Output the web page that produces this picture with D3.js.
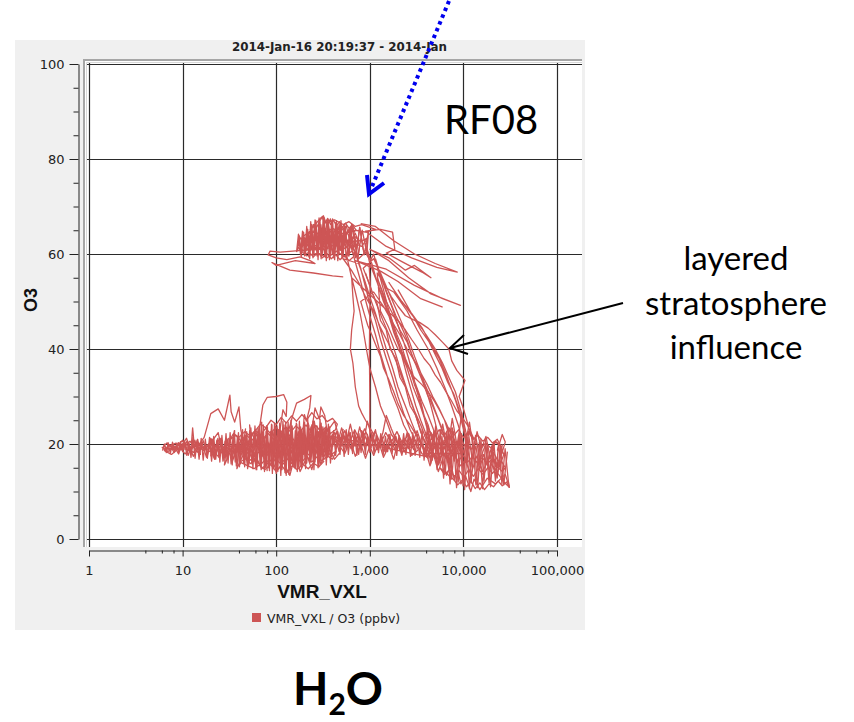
<!DOCTYPE html>
<html>
<head>
<meta charset="utf-8">
<script src="https://cdn.jsdelivr.net/npm/d3@7"></script>
<style>
  body { margin: 0; background: #fff; }
  svg { display: block; }
</style>
</head>
<body>
<svg id="chart" width="854" height="722"></svg>
<script>
// ---- axis settings and labels ----
const xTickValues = [1, 10, 100, 1000, 10000, 100000];
const xMinorMultipliers = [4, 6, 8];
const yTickValues = [0, 20, 40, 60, 80, 100];
const yMinorStep = 5;
const titleText = "2014-Jan-16 20:19:37 - 2014-Jan";
const xTitle = "VMR_VXL";
const yTitle = "O3";
const legendLabel = "VMR_VXL / O3 (ppbv)";
const flightLabel = "RF08";
const noteLines = ["layered", "stratosphere", "influence"];

// ---- flight track, [water vapour VMR, O3 ppbv], in time order per leg ----
const boundaryLayerWest = [
  [6.2,19.2],[7.0,18.4],[8.0,19.8],[9.0,18.0],[10.5,20.4],[11.5,17.6],[12.4,19.8],[12.8,23.4],[13.4,19.0],[14.5,21.0],
  [15.5,17.8],[14.0,18.6],[12.0,20.6],[10.0,19.0],[8.5,20.2],[7.2,19.6],[6.4,18.6],[7.6,17.8],[9.5,19.4],[11.0,21.2],
  [13.0,17.4],[16.0,20.4],[18.0,17.2],[20.0,21.2],[22.0,16.8],[19.0,19.6],[24.0,22.4],[27.0,17.6],[30.0,20.8],[28.0,15.6],
  [33.0,18.8],[36.0,22.8],[34.0,16.4],[40.0,19.8],[38.0,14.8],[44.0,17.6],[47.0,23.2],[45.0,20.4],[50.0,15.2],[54.0,19.4],
  [52.0,24.0],[58.0,17.2],[62.0,14.6],[60.0,21.6],[66.0,18.2],[70.0,24.6],[68.0,16.0],[75.0,20.8],[80.0,14.4],[78.0,22.6],
  [85.0,17.4],[90.0,24.0],[88.0,15.6],[95.0,21.2],[100,13.8],[105,19.8],[102,23.8],[110,16.4],[116,22.2],[114,14.6],
  [122,19.4],[128,13.4],[126,24.6],[134,17.0],[140,21.8],[138,15.0],[146,23.6],[152,16.6],[150,20.4],[160,14.8],
  [166,24.2],[164,18.4],[175,21.6],[180,15.4],[186,23.0],[195,17.8],[200,22.4],[210,16.0],[220,24.4],[225,18.6],
  [240,21.0],[250,16.6],[262,23.2],[275,18.0],[290,21.8],[300,16.4],[315,23.6],[330,19.0],[345,21.6],[360,17.6],
  [380,20.4],[400,22.2]
];

const boundaryLayerReturn = [
  [370,18.6],[340,23.4],[320,16.8],[305,20.2],[285,15.2],[270,21.6],[255,24.8],[245,19.2],[232,16.2],[218,22.0],
  [205,18.4],[192,20.8],[182,16.8],[172,22.6],[158,19.6],[148,15.8],[136,21.4],[124,18.2],[112,22.8],[98,17.0],
  [86,20.2],[76,16.4],[64,21.0],[56,18.0],[48,20.8],[42,17.6],[36,19.8],[30,18.0],[26,20.0],[23,18.4],
  [20,20.2],[17,18.6],[14,19.6],[11.5,18.8],[9,19.2],[7.0,19.0],[8,18.8],[10,20.8],[13,18.2],[17,21.4],
  [20,26.4],[24,27.4],[28,25.0],[32,30.3],[33,26.8],[36,24.6],[40,27.8],[42,22.8],[48,18.4],[55,22.4],
  [62,19.4],[72,28.2],[80,29.8],[100,30.0],[120,30.4],[130,28.8],[128,25.8],[118,27.2],[108,22.0],[115,18.2],
  [130,21.4],[150,26.0],[165,28.6],[200,29.4],[235,30.2],[228,27.6],[210,24.8],[200,26.2],[190,21.0],[205,17.0],
  [230,20.6],[260,27.6],[290,25.2],[300,27.8],[330,26.0],[350,22.6],[420,24.8],[480,20.6],[520,23.2]
];

const boundaryLayerLow = [
  [480,18.2],[420,16.8],[360,19.4],[300,15.8],[270,18.6],[240,14.6],[215,17.4],[180,14.2],[160,17.8],[140,13.4],
  [120,16.0],[100,14.4],[90,16.8],[70,14.8],[60,17.6],[50,16.2],[44,18.6],[50,20.4],[60,23.0],[68,19.2],
  [78,21.8],[84,18.0],[92,22.6],[100,19.0],[108,21.6],[118,17.6],[128,22.2],[136,19.6],[146,22.8],[156,18.4],
  [168,21.4],[180,19.0],[192,22.2],[206,19.6],[220,21.2],[236,18.2],[250,21.8],[266,19.4],[282,22.6],[298,18.8],
  [318,21.0],[336,18.2],[354,20.8],[340,22.0],[320,19.6],[300,23.0],[280,19.8],[265,22.4],[250,18.8],[235,23.6],
  [220,19.0],[205,21.8],[190,18.4],[178,20.6],[165,16.6],[150,19.2],[138,17.2],[125,20.6],[112,18.0],[100,21.4],
  [90,18.6],[80,20.6],[72,17.4],[64,19.6],[56,16.8],[49,19.0],[42,20.6],[35,18.4],[29,19.4],[24,17.4],[20,19.0]
];

const boundaryLayerCore = [
  [60,22.8],[68,24.2],[77,23.4],[88,25.0],[100,24.1],[113,25.6],[128,24.4],[146,25.9],[165,24.8],[188,26.2],
  [212,25.1],[240,26.6],[272,25.3],[310,26.0],[350,24.7],[400,25.4],[450,24.2],
  [430,23.0],[380,22.2],[340,23.6],[300,22.6],[265,23.9],[235,22.7],[208,24.0],[184,22.9],[162,23.8],[143,22.5],
  [127,23.6],[112,22.4],[99,23.5],[87,22.2],[77,23.3],[68,21.9],[60,22.9],[53,21.7],[46,22.6],[40,21.4],[35,22.2],
  [32,20.9],[37,21.8],[42,20.7],[48,21.9],[55,20.8],[63,22.0],[72,21.1],[82,22.2],[94,21.0],[107,22.1],
  [122,20.9],[139,21.9],[158,20.6],[180,21.8],[205,20.8],[233,22.0],[265,21.0],[302,22.1],[345,20.9],[392,21.7],
  [445,20.6],[500,21.5],
  [480,19.8],[425,20.6],[376,19.5],[334,20.4],[296,19.3],[262,20.5],[232,19.4],[206,20.6],[183,19.2],[162,20.3],
  [144,19.1],[128,20.4],[114,19.3],[101,20.5],[90,19.0],[80,20.2],[71,19.1],[63,20.4],[56,19.2],[50,20.3],
  [44,19.0],[39,20.1],[34,19.2],[30,20.0],
  [28,18.2],[32,19.0],[36,17.9],[41,18.8],[47,17.6],[53,18.9],[61,17.8],[69,18.7],[79,17.5],[90,18.8],
  [103,17.7],[117,18.9],[134,17.6],[152,18.6],[174,17.4],[198,18.7],[226,17.6],[258,18.8],[294,17.5],[335,18.6],
  [382,17.7],[436,18.5],
  [400,16.8],[352,17.5],[310,16.4],[273,17.3],[240,16.2],[212,17.4],[186,16.1],[164,17.2],[145,15.9],[128,17.1],
  [112,15.8],[99,16.9],[87,15.7],[77,16.8],[68,15.6],[60,16.6],[53,15.9],[47,16.9],[41,16.2],
  [50,15.4],[58,14.8],[66,15.6],[76,14.6],[87,15.7],[100,14.2],[114,15.5],[130,14.0],[148,15.4],[168,14.6],
  [192,15.8],[220,14.8],[250,16.0],[285,15.2],[325,16.4]
];

const boundaryLayerTail = [
  [6.0,19.4],[6.6,18.5],[7.3,19.9],[8.1,18.2],[9.0,20.3],[10.0,18.6],[11.1,20.6],[12.2,18.1],[13.5,20.8],[15.0,17.9],
  [16.6,20.7],[18.4,17.6],[20.4,21.0],[22.6,17.8],[25.0,20.6],[27.8,17.4],[30.8,21.2],
  [28,19.4],[25,18.6],[22,19.8],[19.5,18.4],[17.2,19.6],[15.2,18.8],[13.4,19.9],[11.8,18.9],[10.4,19.7],
  [9.2,18.8],[8.1,19.4],[7.1,18.9],[6.3,19.6],[6.8,20.2],[7.8,19.1],[9.0,19.7],[10.6,17.9],[12.4,19.3],
  [14.6,20.4],[16.8,19.0],[19.5,20.2],[22.0,19.2],[25.0,21.2],[28,17.0]
];

// long low-level traverse, sampled densely as it sweeps up and down
const lowLevelSweep = [
  [6.1,18.6],[6.4,20.0],[6.7,18.2],[7.0,20.3],[7.4,18.0],[7.8,20.4],[8.2,18.3],[8.6,20.1],[9.1,17.9],[9.5,20.5],
  [10.0,18.4],[10.5,20.6],[11.1,17.6],[11.7,20.2],[12.3,17.2],[12.9,21.4],[13.6,17.0],[14.3,20.8],[15.0,16.8],[15.8,21.2],
  [16.6,16.6],[17.5,21.0],[18.4,17.0],[19.4,21.4],[20.4,16.4],[21.5,21.6],[22.6,16.8],[23.8,21.2],[25.0,16.2],[26.3,21.8],
  [27.7,16.6],[29.1,22.2],[30.6,16.0],[32.2,22.4],[33.9,15.6],[35.7,22.8],[37.5,15.4],[39.5,22.4],[41.5,15.8],[43.7,23.0],
  [46.0,15.2],[48.4,22.6],[50.9,15.6],[53.6,23.4],[56.4,14.8],[59.3,23.8],[62.4,15.2],[65.7,23.2],[69.1,14.6],[72.7,24.0],
  [76.5,15.0],[80.5,23.6],[84.7,14.4],[89.1,24.2],[93.8,14.8],[98.7,23.8],[104,14.2],[109,24.4],[115,14.6],[121,24.0],
  [127,13.8],[134,24.6],[141,14.4],[148,23.8],[156,15.2],[164,24.4],[173,15.6],[182,23.6],[191,15.8],[201,24.6],
  [212,16.0],[223,24.0],[234,16.4],[247,24.8],[260,16.2],[273,23.8],[287,16.6],[302,24.4],[318,16.8],[335,23.2],
  [352,17.2],[371,23.6],[390,17.4],[410,22.8],[432,17.6],[455,22.6],[480,17.8],[505,22.2],[532,17.4],[560,23.0],
  [590,17.8],[622,22.4],[655,18.0],[690,22.8],[727,17.6],[766,22.2],[807,18.2],[850,22.6],[895,17.8],[943,22.0],
  [993,18.4],[1050,22.4],[1110,18.0],[1170,21.8],[1240,18.2],[1310,22.2],[1390,17.8],[1470,21.6],[1550,18.4],[1640,22.0],
  [1730,18.0],[1830,21.4],[1940,17.6],[2050,21.8],[2170,18.2],[2300,22.2],[2430,17.8],[2570,21.6],[2720,17.4],[2880,22.4],
  [3050,17.6],[3230,22.0],[3420,17.2],[3620,23.0],
  [3800,16.6],[4120,23.4],[4460,15.8],[4830,22.8],[5230,14.6],[5670,23.0],[6140,12.8],[6650,22.4],[7200,11.6],[7800,22.6],
  [8450,10.8],[9150,21.8],[9900,11.2],[10700,22.0],[11600,10.6],[12600,21.2],[13600,11.4],[14800,20.4],[16000,10.6],[17300,20.8],
  [18800,11.8],[20300,19.8],[22000,12.2],[23800,20.2],[25800,11.6],[27900,19.0],[30200,12.2],[31000,11.0]
];

// the return traverse at low level, heading back west
const lowLevelReturn = [
  [29500,18.4],[27000,11.4],[24800,19.6],[22900,12.8],[21100,20.4],[19500,11.0],[18000,19.8],[16600,12.2],[15400,21.0],[14200,10.8],
  [13100,20.0],[12100,11.8],[11200,21.4],[10300,10.4],[9500,22.2],[8800,12.0],[8100,21.0],[7500,12.6],[6900,23.0],[6400,13.8],
  [5900,21.6],[5450,15.6],[5050,23.8],[4650,16.6],[4300,22.0],[3950,17.4],
  [400,21.6],[380,16.0],[361,24.2],[343,15.6],[326,23.0],[310,17.4],[294,25.2],[280,15.0],[266,22.6],[253,14.6],
  [240,24.0],[228,16.2],[217,25.4],[206,14.8],[196,23.2],[186,15.0],[177,24.8],[168,14.2],[160,22.8],[152,15.4],
  [144,25.0],[137,13.6],[130,23.4],[124,14.0],[118,24.8],[112,13.4],[106,23.0],[101,14.6],[96,24.4],[91,13.8],
  [87,22.6],[83,15.0],[79,23.8],[75,14.2],[71,22.4],[67.5,15.4],[64,23.4],[61,14.6],[58,22.0],[55,15.8],
  [52,22.8],[49.5,14.8],[47,21.6],[45,16.0],[42.5,22.2],[40.5,15.2],[38.5,21.4],[36.5,16.2],[34.8,22.0],[33,15.8],
  [31.4,21.0],[29.8,16.8],[28.4,20.6],[27,16.4],[25.6,21.2],[24.4,17.2],[23.2,20.8],[22,16.8],[21,21.0],[20,17.4]
];

// repeated passes at the top of the profiles
const upperSweep = [
  [165,60.4],[173,64.2],[182,59.8],[191,64.8],[201,59.6],[212,65.8],[223,59.4],[234,66.8],[247,59.2],[260,67.2],
  [273,59.6],[287,67.6],[302,59.0],[318,68.0],[335,59.4],[352,67.2],[371,58.8],[390,66.8],[410,59.2],[432,66.6],
  [455,58.6],[480,66.4],[505,59.0],[532,66.2],[560,58.8],[620,65.4],[700,59.2],[780,65.6],[870,59.8],[970,64.8],
  [930,60.2],[830,65.0],[740,59.0],[660,66.0],[590,59.6],[545,65.4],[518,59.4],[492,67.0],[467,59.8],[443,65.8],
  [421,58.8],[400,67.4],[380,59.6],[361,66.2],[343,58.6],[326,67.6],[310,59.8],[294,66.8],[280,58.8],[266,67.0],
  [253,60.0],[240,66.2],[228,59.0],[217,65.2],[206,60.2],[196,64.6],[186,59.4],[177,63.8],[169,60.6]
];

const boundaryLayerEast = [
  [360,20.2],[420,22.4],[470,18.4],[520,21.8],[560,19.0],[600,22.6],[650,18.6],[700,21.0],[760,17.8],[820,22.8],
  [880,19.2],[950,21.4],[1000,18.2],[1080,20.6],[1150,23.0],[1250,19.2],[1350,21.6],[1450,18.4],[1600,22.0],[1750,19.4],
  [1900,21.6],[2100,18.6],[2300,20.8],[2600,19.0],[2900,21.4],[3300,18.8],[2800,17.6],[2400,21.2],[2000,19.8],[1700,23.2],
  [1500,26.0],[1380,22.4],[1200,18.8],[1050,21.6],[940,24.8],[860,20.2],[780,23.6],[700,19.6],[620,24.2],[560,20.4],
  [500,23.4],[440,19.2],[400,21.0],[460,20.0],[540,18.0],[620,20.8],[700,17.4],[800,20.0],[900,17.0],[1000,19.6],
  [1100,17.6],[1250,20.4],[1400,17.2],[1600,19.6],[1800,16.8],[2000,20.6],[2200,17.6],[2500,22.4],[2800,19.6],[3200,22.8],
  [3600,19.8],
  [500,19.6],[560,21.4],[630,19.0],[700,21.8],[780,19.4],[870,22.2],[970,19.8],[1080,21.6],[1200,19.2],[1340,21.2],
  [1500,18.8],[1680,21.0],[1880,18.6],[2100,20.6],[2350,18.4],[2650,20.4],[2950,18.8],[2600,22.2],[2250,20.0],[1950,22.6],
  [1700,20.4],[1480,22.4],[1300,20.0],[1140,22.8],[1000,20.6],[880,23.2],[780,20.8],[690,23.0],[610,20.4],[540,22.8],
  [480,20.2],[440,22.6],[400,19.4]
];

const upperCluster = [
  [230,65.0],[300,67.6],[320,68.0],[340,66.6],[420,67.2],[520,66.2],[600,66.8],[700,65.8],[820,66.2],[1000,65.6],
  [1150,65.2],[900,64.6],[700,65.0],[520,64.2],[400,65.4],[300,64.0],[230,64.8],[190,63.6],[240,62.6],[300,63.4],
  [380,62.2],[460,63.6],[560,62.4],[680,63.8],[800,62.6],[950,63.4],[820,61.6],[650,62.4],[520,61.0],[420,62.0],
  [330,60.8],[260,61.8],[200,60.6],[170,61.4],[210,59.6],[280,60.2],[350,59.2],[440,60.6],[540,59.4],[640,60.6],
  [760,59.0],[900,60.4],[1000,58.8],[850,61.0],[780,65.6],[720,60.2],[640,66.4],[600,59.6],[540,65.8],[480,60.8],
  [440,67.0],[400,60.0],[360,66.4],[330,59.8],[300,66.2],[280,60.4],[260,65.2],[240,61.0],[220,64.4],[200,62.0],
  [180,63.4],[210,63.0],[250,66.2],[270,62.2],[300,65.6],[320,61.6],[350,67.0],[370,62.6],[400,64.6],[430,61.4],
  [470,66.2],[500,62.8],[540,64.6],[580,61.2],[620,64.0],[660,60.8],[700,63.2],[740,58.6],[780,61.8],[700,64.4],
  [620,62.2],[560,66.0],[500,63.2],[460,64.8],[400,62.6],[360,64.0],[330,62.2],[290,63.6],[260,61.0],[240,63.6],
  [210,61.6],[330,65.0],[380,67.4],[420,63.0],[480,65.0],[520,62.6],[600,65.2],[640,63.0],[300,62.4],[350,61.0]
];

const upperClusterRows = [
  [270,65.6],[290,66.8],[310,67.8],[330,66.4],[355,67.5],[380,66.2],[410,67.1],[440,65.9],[475,66.8],[510,65.6],
  [550,66.5],[600,65.4],[650,66.2],[710,65.1],
  [680,64.6],[620,65.6],[570,64.4],[520,65.5],[475,64.2],[435,65.4],[400,64.0],[365,65.3],[335,64.1],[305,65.2],
  [280,64.2],[255,65.0],[235,64.0],
  [215,63.2],[235,62.4],[258,63.6],[282,62.5],[308,63.8],[337,62.6],[368,63.9],[402,62.7],[440,63.8],[480,62.5],
  [525,63.6],[575,62.4],[630,63.4],[690,62.3],[760,63.2],
  [720,61.2],[650,62.0],[590,60.9],[535,62.1],[485,60.8],[440,61.9],[400,60.7],[365,61.8],[332,60.6],[302,61.7],
  [275,60.5],[250,61.6],[228,60.6],[208,61.4],
  [200,59.8],[225,60.4],[250,59.4],[280,60.3],[312,59.2],[348,60.1],[388,59.0],[432,59.9],[480,58.8],[535,59.7],
  [600,58.6],[670,59.4]
];

const westTail = [
  [300,61.0],[200,60.8],[150,60.6],[110,60.4],[86,60.6],[82,59.8],[100,59.2],[130,58.8],[180,59.4],[230,58.6],
  [260,58.0],[160,58.6],[100,57.6],[90,58.2],[140,56.6],[250,56.0],[400,55.4],[520,55.2]
];

const eastStreaks = [
  [800,66.4],[1150,65.8],[1800,62.8],[3000,60.0],[5000,58.0],[8600,56.2],[5200,57.2],[2800,59.2],[1500,61.6],[900,64.8],
  [1300,65.2],[1750,64.6],[1850,61.0],[1500,60.2],[2200,58.4],[3600,56.2],[4500,55.0],[3000,57.6],[2400,56.6],[1600,59.2],
  [1000,61.0],[1600,58.6],[2600,55.0],[4500,51.6],[9300,49.2],[6000,50.6],[3000,53.4],[1500,56.8],[700,58.6],[1300,56.4],
  [2000,54.2],[3500,50.6],[6000,48.8]
];

const profileLegs = [
  [560,60],[640,55],[700,52],[780,48],[850,44],[920,40],[1000,36],[1150,32],[1300,28],[1500,25],[1700,22],[2200,19],
  [3000,19.5],[2600,22],[2300,24],[2000,27.5],[1700,31],[1500,35],[1300,39],[1150,43],[1000,47],[880,51],[780,55],[620,62],
  [700,60.5],[800,57],[900,53],[1000,49.5],[1150,46],[1300,42],[1500,38],[1750,34],[2000,30],[2300,26.5],[2700,23],[3600,18],
  [4200,17],[3700,19],[3300,21],[2800,24.5],[2400,28],[2000,32],[1750,36],[1500,40],[1300,44],[1150,47.5],[1000,51],[880,54.5],[760,58],
  [520,59],[640,56.5],[760,54],[900,51],[1100,48],[1300,44.5],[1600,41],[1900,37.5],[2200,34],[2600,30.5],[3000,27],[3500,24],[4000,21],[5200,16.5],
  [5200,19],[4500,22],[3900,25],[3400,28.5],[2900,32],[2500,36],[2100,40],[1800,43.5],[1600,47],[1400,50.5],[1200,54],[1050,58],[900,62],
  [1000,58],[1200,54],[1400,50],[1650,46.5],[1900,43],[2200,39.5],[2600,36],[3100,32.5],[3600,29],[4200,26],[4800,23],[5600,20],[6500,17],
  [8000,19],[7000,22],[6300,25],[5500,27.5],[4700,30],[4100,32.5],[3500,35],[3000,37.5],[2500,40],[2100,43],[1700,46],[1400,49],[1100,52],
  [800,50],[870,47.5],[950,45],[1050,43],[1150,41],[1300,38.5],[1400,36],[1600,33.5],[1800,31],[2000,28.5],[2300,26],[2700,24],[3100,22],[4100,18],
  [9500,18],[8400,20],[7400,22],[6500,24.5],[5600,27],[4900,29],[4200,31],[3600,32.5],[3000,34],[2600,36],[2300,38],[2000,40],[1800,42],[1550,45],[1300,48],
  [1200,56],[1450,53.5],[1700,51],[2000,49],[2400,47],[2900,46.2],[3400,45.6],[4200,44.4],[5000,43.0],[6000,41.4],[7000,40.0],[7500,37.5],
  [8500,35.5],[10400,33.4],[9400,31],[9000,30],[9800,28],[10500,26],[11200,24],[11800,22],
  [13000,21],[12000,22.5],[11000,24],[9800,25.5],[8500,27],[7500,29],[6500,31],[5700,33],[5000,34.5],[4400,36.5],[3800,38],[3300,40],[2800,42],[2400,44],[2000,46],
  [640,55],[660,51],[680,48],[660,46],[640,44],[620,40],[640,38.5],[660,37],[680,34.5],[700,32],[730,30],[760,28],[820,26.5],[900,25],[1000,23.5],[1100,22],
  [1000,20],[1000,25],[1000,30],[995,35],[990,40],[995,44],[1000,48],[1010,54],[980,58],
  [1100,60],[1250,56],[1400,52.5],[1550,49],[1750,45.5],[1950,42],[2200,38.5],[2450,35],[2750,31.5],[3100,28],[3500,25],[4000,22],[4600,19],[5300,16],
  [6000,18],[5500,21],[5000,24.5],[4500,28],[4000,31.5],[3500,35],[3000,38.5],[2600,42],[2200,45.5],[1850,49],[1550,52.5],[1300,56],[1100,59],
  [850,57],[1000,53.5],[1150,50],[1350,46.5],[1600,43],[1850,39.5],[2100,36],[2400,32.5],[2750,29],[3150,25.5],[3600,22],[4200,18.5],
  [4800,18],[4400,21],[4000,24],[3600,27.5],[3200,31],[2900,34.5],[2600,38],[2300,41.5],[2000,45],[1750,48.5],[1500,52],[1300,55.5],[1150,59]
];

const profileLegsLate = [
  [900,56],[1050,52],[1200,49.5],[1300,46],[1500,44],[1650,40],[1900,38],[2100,34],[2400,32],[2700,28],[3100,26],[3500,22.5],[4000,20],
  [4600,21],[4200,24],[3800,26],[3400,30],[3000,32.5],[2700,35.5],[2400,38],[2200,40.5],[1950,43],[1700,46.5],[1500,49],[1350,52],[1200,55],
  [1500,50],[1800,47],[2100,44],[2500,41.5],[2900,38],[3300,35.5],[3800,33],[4400,30],[5000,27],[5700,24],[6500,21],[7500,18],
  [6800,19],[6000,22.5],[5300,25.5],[4700,28],[4100,30.5],[3600,33.5],[3200,36],[2800,39],[2500,42],[2200,44.5],[1900,47],[1650,50],[1450,53],
  [1800,52],[2500,48],[3200,44],[4200,40],[5200,36],[6300,32],[7500,28],[8800,24],[10000,20],
  [11500,19],[10500,23],[9400,27],[8200,31],[7000,34],[6000,37],[5000,40],[4000,43],[3000,46.5],[2200,50],
  [1600,54],[2100,50.5],[2800,47.5],[3600,44.5],[4500,41],[5500,38],[6400,35],[7300,32],[8300,29],[9200,26],[10200,22.5],
  [10800,20],[9900,24],[8900,27.5],[7900,30.5],[6800,33],[5900,36],[5100,38.5],[4300,41.5],[3500,44],[2700,48],[2000,52.5]
];

const eastCluster = [
  [3400,21.0],[4200,17.4],[5000,22.6],[5600,16.0],[6200,20.8],[7000,14.6],[7600,23.4],[8400,17.2],[9200,21.6],[10000,13.8],
  [11000,19.4],[12000,15.2],[13500,21.8],[15000,16.6],[17000,19.6],[19000,14.4],[21000,18.2],[24000,16.0],[26000,19.8],[23000,13.0],
  [20000,15.8],[27000,12.0],[31000,10.9],[28000,13.6],[22000,11.6],[18000,12.8],[15000,10.4],[13000,12.6],[12000,10.0],[10500,13.4],
  [9400,11.6],[8600,14.8],[8000,12.4],[7400,15.6],[6600,13.4],[6000,16.8],[5400,14.2],[4800,17.8],[4400,15.4],[3900,19.0],
  [4500,22.4],[5300,19.0],[6000,24.2],[6800,18.6],[7600,25.4],[8600,19.4],[9600,26.6],[10600,20.2],[11600,24.6],[12800,18.6],
  [14000,22.6],[15600,19.0],[17400,21.6],[19400,17.0],[22000,20.6],[25000,19.6],[27000,17.8],[24000,15.0],[20000,17.8],[16000,14.2],
  [14000,17.6],[12000,13.6],[10500,16.6],[9000,15.2],[8000,18.4],[7000,16.8],[6200,19.4],[5500,17.6],[4700,20.2],[6000,20.2],
  [7200,22.0],[8000,16.4],[9000,22.4],[10200,17.8],[11200,22.8],[12400,16.8],[13600,19.6],[14800,14.6],[16400,17.8],[18000,15.8],
  [20000,19.4],[22000,15.2],[25000,17.2],[28000,20.4],[26000,22.0],[23000,18.6]
];

const eastClusterRows = [
  [3800,21.6],[4300,22.8],[4900,21.4],[5500,23.0],[6200,21.6],[7000,23.4],[7900,21.8],[8900,23.0],[10000,21.4],[11300,22.6],
  [12700,21.0],[14300,21.8],[16100,20.6],[18200,21.4],[20500,20.2],[23000,21.0],
  [25000,19.6],[22000,20.4],[19500,19.2],[17300,20.2],[15300,19.0],[13600,20.3],[12100,18.9],[10700,20.2],[9500,18.8],[8400,20.0],
  [7500,18.6],[6600,19.9],[5900,18.5],[5200,19.8],[4600,18.4],[4100,19.6],
  [4300,17.2],[4800,18.0],[5400,16.8],[6100,17.9],[6900,16.6],[7800,17.8],[8800,16.4],[9900,17.6],[11100,16.2],[12500,17.4],
  [14100,16.0],[15900,17.2],[17900,15.8],[20100,16.8],[22600,15.6],[25500,16.4],[28000,15.0],
  [26000,14.2],[23000,15.2],[20500,13.8],[18200,15.0],[16200,13.6],[14400,14.8],[12800,13.2],[11400,14.6],[10100,13.0],[9000,14.4],
  [8000,13.2],[7100,14.6],[6300,13.6],[5600,15.0],
  [7800,12.6],[8700,11.4],[9700,12.4],[10800,11.0],[12000,12.2],[13400,10.6],[15000,11.8],[16800,10.4],[18800,11.6],[21000,11.0],
  [23500,12.2],[26000,11.2],[29000,12.0],[31000,10.8]
];

const flightLegs = [boundaryLayerWest, boundaryLayerReturn, boundaryLayerLow, boundaryLayerCore, boundaryLayerTail,
                    lowLevelSweep, lowLevelReturn, boundaryLayerEast, upperCluster, upperClusterRows, upperSweep,
                    westTail, eastStreaks, profileLegs, profileLegsLate, eastCluster, eastClusterRows];

// ---- layout ----
const traceColor = "#cd5555";
const uiFont = "'DejaVu Sans', Verdana, sans-serif";
const titleFont = "'Liberation Sans', Arial, sans-serif";
const noteFont = "Lato, 'Open Sans', sans-serif";

const svg = d3.select("#chart");

const x = d3.scaleLog().domain([1, 100000]).range([89, 557]);
const y = d3.scaleLinear().domain([0, 100]).range([539, 64]);

const plot = { left: 83, top: 59, right: 582, bottom: 547 };

// panel background
svg.append("rect").attr("x", 15).attr("y", 40).attr("width", 570).attr("height", 590).attr("fill", "#f0f0f0");

// title (time range)
svg.append("text")
  .attr("x", 232).attr("y", 51)
  .attr("font-family", uiFont).attr("font-weight", "bold").attr("font-size", 12)
  .attr("fill", "#222")
  .attr("textLength", 215).attr("lengthAdjust", "spacingAndGlyphs")
  .text(titleText);

// plot area
svg.append("rect")
  .attr("x", plot.left).attr("y", plot.top)
  .attr("width", plot.right - plot.left).attr("height", plot.bottom - plot.top)
  .attr("fill", "#fff");
svg.append("path")
  .attr("d", `M${plot.left + 1},${plot.bottom} V${plot.top + 1} H${plot.right}`)
  .attr("fill", "none").attr("stroke", "#a6a6a6").attr("stroke-width", 2);
svg.append("path")
  .attr("d", `M${plot.left + 3.5},${plot.bottom} V${plot.top + 3.5} H${plot.right}`)
  .attr("fill", "none").attr("stroke", "#d8d8d8").attr("stroke-width", 1);

// grid
const grid = svg.append("g").attr("stroke", "#2a2a2a").attr("stroke-width", 1.2);
grid.selectAll("line.v").data(xTickValues).join("line")
  .attr("x1", d => Math.round(x(d)) + 0.5).attr("x2", d => Math.round(x(d)) + 0.5)
  .attr("y1", plot.top + 4).attr("y2", plot.bottom);
grid.selectAll("line.h").data(yTickValues).join("line")
  .attr("x1", plot.left + 4).attr("x2", plot.right)
  .attr("y1", d => Math.round(y(d)) + 0.5).attr("y2", d => Math.round(y(d)) + 0.5);

// flight track
svg.append("clipPath").attr("id", "plotClip").append("rect")
  .attr("x", plot.left).attr("y", plot.top)
  .attr("width", plot.right - plot.left).attr("height", plot.bottom - plot.top);
const line = d3.line().x(d => x(d[0])).y(d => y(d[1]));
svg.append("g").attr("clip-path", "url(#plotClip)")
  .selectAll("path").data(flightLegs).join("path")
  .attr("d", line)
  .attr("fill", "none").attr("stroke", traceColor).attr("stroke-width", 1.3)
  .attr("stroke-linejoin", "round");

// y axis
const yMinor = d3.range(0, 100 + yMinorStep, yMinorStep).filter(v => !yTickValues.includes(v));
const yAxisG = svg.append("g").attr("transform", "translate(78.5,0)");
yAxisG.call(d3.axisLeft(y).tickValues(yTickValues).tickSizeInner(9).tickSizeOuter(0).tickPadding(5));
yAxisG.append("g").call(d3.axisLeft(y).tickValues(yMinor).tickSize(5).tickFormat(""))
  .select(".domain").remove();
yAxisG.selectAll("text").attr("font-family", uiFont).attr("font-size", 13).attr("fill", "#222");
yAxisG.selectAll("line, path").attr("stroke", "#222");

// x axis
const xMinor = [];
xTickValues.slice(0, -1).forEach(dec => xMinorMultipliers.forEach(m => xMinor.push(dec * m)));
const xAxisG = svg.append("g").attr("transform", "translate(0,550.5)");
xAxisG.call(d3.axisBottom(x).tickValues(xTickValues).tickFormat(d3.format(",")).tickSizeInner(6).tickSizeOuter(0).tickPadding(9));
xAxisG.append("g").call(d3.axisBottom(x).tickValues(xMinor).tickSize(3).tickFormat(""))
  .select(".domain").remove();
xAxisG.selectAll("text").attr("font-family", uiFont).attr("font-size", 13).attr("fill", "#222");
xAxisG.selectAll("line, path").attr("stroke", "#222");

// axis titles
svg.append("text")
  .attr("x", 322).attr("y", 598).attr("text-anchor", "middle")
  .attr("font-family", titleFont).attr("font-weight", "bold").attr("font-size", 19).attr("fill", "#111")
  .text(xTitle);
svg.append("text")
  .attr("transform", "translate(37,300) rotate(-90)").attr("text-anchor", "middle")
  .attr("font-family", titleFont).attr("font-weight", "bold").attr("font-size", 18).attr("fill", "#111")
  .text(yTitle);

// legend
svg.append("rect").attr("x", 252).attr("y", 613).attr("width", 9).attr("height", 9).attr("fill", traceColor);
svg.append("text")
  .attr("x", 267).attr("y", 622.5)
  .attr("font-family", uiFont).attr("font-size", 12.5).attr("fill", "#222")
  .text(legendLabel);

// annotations
svg.append("text")
  .attr("x", 444).attr("y", 134)
  .attr("font-family", noteFont).attr("font-size", 40).attr("fill", "#000")
  .text(flightLabel);

svg.append("g").selectAll("text").data(noteLines).join("text")
  .attr("x", 736).attr("y", (d, i) => 270 + i * 44.5).attr("text-anchor", "middle")
  .attr("font-family", noteFont).attr("font-size", 33).attr("fill", "#000")
  .text(d => d);

// black arrow pointing at the layered profiles
const arrowTip = [450, 348];
svg.append("line").attr("x1", 623).attr("y1", 303).attr("x2", arrowTip[0]).attr("y2", arrowTip[1])
  .attr("stroke", "#000").attr("stroke-width", 2);
svg.append("path")
  .attr("d", `M464,335 L${arrowTip[0]},${arrowTip[1]} L468,354`)
  .attr("fill", "none").attr("stroke", "#000").attr("stroke-width", 2).attr("stroke-linejoin", "miter");

// blue dotted arrow
const blueTip = [369, 194];
svg.append("line").attr("x1", 449).attr("y1", 1).attr("x2", blueTip[0] + 2).attr("y2", blueTip[1] - 5)
  .attr("stroke", "#0000ee").attr("stroke-width", 4).attr("stroke-dasharray", "3.5,3.8");
svg.append("path")
  .attr("d", `M367,175 L${blueTip[0]},${blueTip[1]} L384,183`)
  .attr("fill", "none").attr("stroke", "#0000ee").attr("stroke-width", 4).attr("stroke-linejoin", "miter");

// H2O label
const h2o = svg.append("text")
  .attr("x", 293).attr("y", 705)
  .attr("font-family", noteFont).attr("font-weight", "bold").attr("font-size", 46).attr("fill", "#000");
h2o.append("tspan").text("H");
h2o.append("tspan").attr("font-size", 30).attr("dy", 10).text("2");
h2o.append("tspan").attr("dy", -10).text("O");
</script>
</body>
</html>
